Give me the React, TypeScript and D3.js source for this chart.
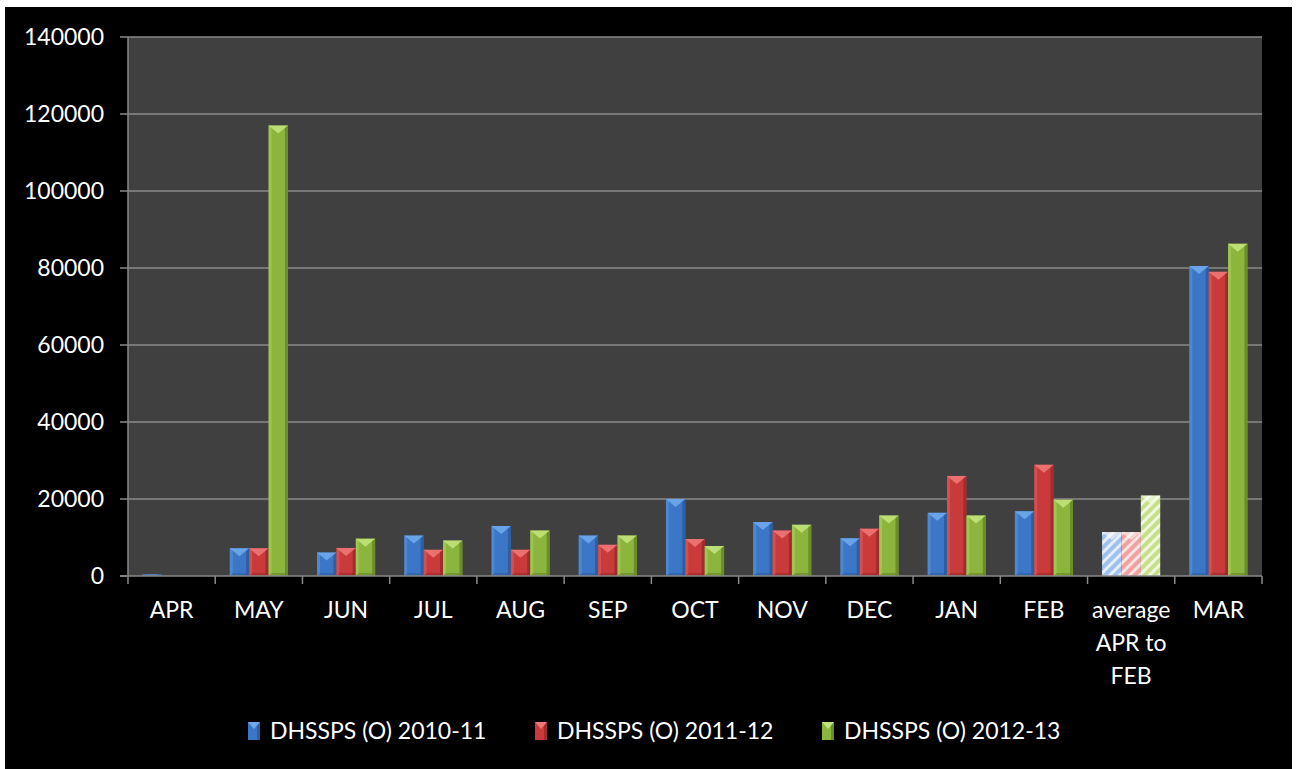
import React from "react";
import * as d3 from "d3";

const categories = ["APR", "MAY", "JUN", "JUL", "AUG", "SEP", "OCT", "NOV", "DEC", "JAN", "FEB", "average APR to FEB", "MAR"];
const categoryLines = [["APR"], ["MAY"], ["JUN"], ["JUL"], ["AUG"], ["SEP"], ["OCT"], ["NOV"], ["DEC"], ["JAN"], ["FEB"], ["average", "APR to", "FEB"], ["MAR"]];
const seriesNames = ["DHSSPS (O) 2010-11", "DHSSPS (O) 2011-12", "DHSSPS (O) 2012-13"];
const s2010 = [400, 7200, 6100, 10500, 13000, 10500, 20000, 14000, 9800, 16400, 16800, 11400, 80500];
const s2011 = [0, 7200, 7300, 6800, 6800, 8100, 9600, 11800, 12300, 26000, 28900, 11400, 79000];
const s2012 = [0, 117000, 9700, 9200, 11800, 10500, 7800, 13300, 15700, 15700, 19800, 20900, 86300];
const seriesValues = [s2010, s2011, s2012];
const yTicks = [0, 20000, 40000, 60000, 80000, 100000, 120000, 140000];
const hatchedCategory = "average APR to FEB";

const colors = [
  { base: "#3b77c6", light: "#6fa9ec", dark: "#2a5694", hatchBase: "#9fc2ec", hatchStripe: "#e4eefa" },
  { base: "#c93a3a", light: "#ee7878", dark: "#922626", hatchBase: "#eea2a2", hatchStripe: "#fbe2e2" },
  { base: "#8bb53c", light: "#c2e27a", dark: "#5e7e24", hatchBase: "#c6df8c", hatchStripe: "#f1f7dc" },
];

const FONT = "Lato, 'Open Sans', sans-serif";

function Bar({ x, y, w, h, c, hatched, id }: any) {
  if (h <= 0) return null;
  const tri = Math.min(8, h / 2);
  const edge = Math.min(3, w / 4);
  const fill = hatched ? `url(#hatch-${id})` : c.base;
  return (
    <g>
      <rect x={x} y={y} width={w} height={h} fill={fill} />
      {!hatched && (
        <>
          <rect x={x} y={y} width={edge} height={h} fill={c.light} opacity={0.35} />
          <rect x={x + w - edge} y={y} width={edge} height={h} fill={c.dark} opacity={0.7} />
          <polygon points={`${x},${y + h} ${x + w},${y + h} ${x + w - edge},${y + h - Math.min(3, h / 3)} ${x + edge},${y + h - Math.min(3, h / 3)}`} fill={c.dark} opacity={0.5} />
        </>
      )}
      <polygon points={`${x},${y} ${x + w},${y} ${x + w / 2},${y + tri}`} fill={hatched ? "#ffffff" : c.light} opacity={hatched ? 0.55 : 0.9} />
    </g>
  );
}

export default function App() {
  const W = 1298, H = 769;
  const left = 128, right = 1262, top = 37, bottom = 576;
  const x = d3.scaleBand<string>().domain(categories).range([left, right]).paddingInner(0).paddingOuter(0);
  const bw = x.bandwidth() / 4.5;
  const xs = d3.scaleBand<string>().domain(seriesNames).range([0.75 * bw, x.bandwidth() - 0.75 * bw]).padding(0);
  const y = d3.scaleLinear().domain([0, 140000]).range([bottom, top]);
  const gridColor = "#8a8a8a";

  const legendItems = [
    { mx: 248, tx: 270 },
    { mx: 535, tx: 557 },
    { mx: 822, tx: 844 },
  ];

  return (
    <svg width={W} height={H} style={{ position: "absolute", left: 0, top: 0 }} fontFamily={FONT}>
      <defs>
        {colors.map((c, i) => (
          <pattern key={i} id={`hatch-${i}`} width={7} height={7} patternUnits="userSpaceOnUse" patternTransform="rotate(45)">
            <rect width={7} height={7} fill={c.hatchBase} />
            <rect width={3} height={7} fill={c.hatchStripe} />
          </pattern>
        ))}
      </defs>
      <rect x={0} y={0} width={W} height={H} fill="#ffffff" />
      <rect x={5} y={7} width={1287} height={H - 7} fill="#000000" />
      <rect x={left} y={top} width={right - left} height={bottom - top} fill="#404040" />
      {yTicks.map((t) => (
        <g key={t}>
          {t > 0 && <line x1={left} x2={right} y1={y(t)} y2={y(t)} stroke={gridColor} strokeWidth={1.5} />}
          <line x1={120} x2={left} y1={y(t)} y2={y(t)} stroke={gridColor} strokeWidth={1.5} />
          <text x={104} y={y(t)} dy="0.36em" textAnchor="end" fill="#ffffff" fontSize={23}>{t}</text>
        </g>
      ))}
      {categories.map((cat, ci) => (
        <g key={cat}>
          {seriesValues.map((vals, si) => {
            const bx = (x(cat) as number) + (xs(seriesNames[si]) as number);
            const by = y(vals[ci]);
            return (
              <Bar key={si} id={si} x={bx} y={by} w={xs.bandwidth()} h={bottom - by} c={colors[si]} hatched={cat === hatchedCategory} />
            );
          })}
        </g>
      ))}
      <line x1={left} x2={left} y1={top} y2={bottom} stroke={gridColor} strokeWidth={1.5} />
      <line x1={120} x2={right} y1={bottom} y2={bottom} stroke={gridColor} strokeWidth={1.5} />
      {d3.range(categories.length + 1).map((k) => {
        const tx = left + k * x.bandwidth();
        return <line key={k} x1={tx} x2={tx} y1={bottom} y2={bottom + 8} stroke={gridColor} strokeWidth={1.5} />;
      })}
      {categories.map((cat, ci) => (
        <text key={cat} x={(x(cat) as number) + x.bandwidth() / 2} y={618} textAnchor="middle" fill="#ffffff" fontSize={23}>
          {categoryLines[ci].map((ln, li) => (
            <tspan key={li} x={(x(cat) as number) + x.bandwidth() / 2} dy={li === 0 ? 0 : 33}>{ln}</tspan>
          ))}
        </text>
      ))}
      {seriesNames.map((name, i) => {
        const c = colors[i];
        const it = legendItems[i];
        return (
          <g key={name}>
            <rect x={it.mx} y={722} width={12} height={18} fill={c.base} />
            <rect x={it.mx + 9} y={722} width={3} height={18} fill={c.dark} opacity={0.7} />
            <polygon points={`${it.mx},722 ${it.mx + 12},722 ${it.mx + 6},729`} fill={c.light} />
            <text x={it.tx} y={731} dy="0.36em" fill="#ffffff" fontSize={23}>{name}</text>
          </g>
        );
      })}
    </svg>
  );
}
